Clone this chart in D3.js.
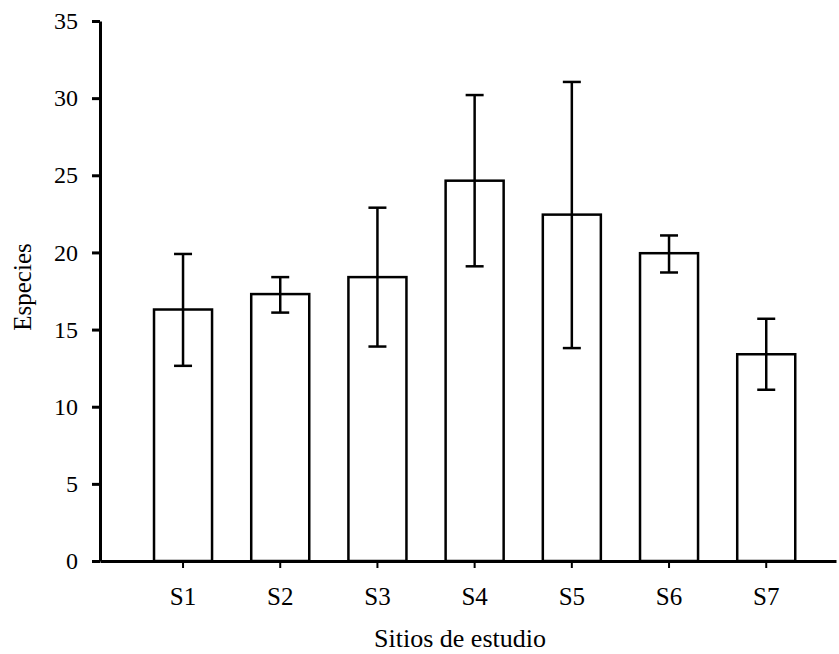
<!DOCTYPE html>
<html><head><meta charset="utf-8">
<script src="https://cdn.jsdelivr.net/npm/d3@7"></script>
<style>body{margin:0;background:#fff}svg{display:block}
svg text{font-family:"Liberation Serif","DejaVu Serif",serif;fill:#000}</style>
</head><body>
<svg id="c" width="839" height="654"></svg>
<script>
const categories = ["S1","S2","S3","S4","S5","S6","S7"];
const means = [16.3, 17.3, 18.4, 24.65, 22.45, 19.95, 13.4];
const upper = [19.9, 18.4, 22.9, 30.2, 31.05, 21.1, 15.7];
const lower = [12.65, 16.1, 13.9, 19.1, 13.8, 18.7, 11.1];
const yTicks = [0,5,10,15,20,25,30,35];

const svg = d3.select("#c");
const fs = 24;
const x = d3.scaleBand().domain(categories).range([100, 836])
  .paddingInner(0.403).paddingOuter(0.4875).align(0.57);
const y = d3.scaleLinear().domain([0, 35]).range([561, 21]);

const data = categories.map((c,i)=>({c, m:means[i], u:upper[i], l:lower[i]}));

// bars
svg.append("g").selectAll("rect").data(data).join("rect")
  .attr("x", d=>x(d.c)).attr("y", d=>y(d.m))
  .attr("width", x.bandwidth()).attr("height", d=>y(0)-y(d.m))
  .attr("fill","#fff").attr("stroke","#000").attr("stroke-width",2.5);

// error bars
const cap = 9;
const eb = svg.append("g").attr("stroke","#000").attr("stroke-width",2.5);
data.forEach(d=>{
  const cx = x(d.c)+x.bandwidth()/2;
  eb.append("line").attr("x1",cx).attr("x2",cx).attr("y1",y(d.u)).attr("y2",y(d.l));
  eb.append("line").attr("x1",cx-cap).attr("x2",cx+cap).attr("y1",y(d.u)).attr("y2",y(d.u));
  eb.append("line").attr("x1",cx-cap).attr("x2",cx+cap).attr("y1",y(d.l)).attr("y2",y(d.l));
});

// y axis
const ya = svg.append("g").attr("transform","translate(100,0)")
  .call(d3.axisLeft(y).tickValues(yTicks).tickSize(8).tickSizeOuter(0).tickPadding(14));
ya.attr("font-family",null);
ya.select(".domain").attr("stroke-width",3);
ya.selectAll(".tick line").attr("stroke-width",3);
ya.selectAll("text").style("font-size",fs+"px");

// x axis
const xa = svg.append("g").attr("transform","translate(0,561)")
  .call(d3.axisBottom(x).tickSize(7).tickSizeOuter(0).tickPadding(19));
xa.attr("font-family",null);
xa.select(".domain").attr("stroke-width",3);
xa.selectAll(".tick line").attr("stroke-width",2);
xa.selectAll("text").style("font-size",(fs+1)+"px");

// titles
svg.append("text").attr("x",460).attr("y",647).attr("text-anchor","middle")
  .style("font-size","26px").text("Sitios de estudio");
svg.append("text").attr("transform","translate(31,287) rotate(-90)").attr("text-anchor","middle")
  .style("font-size","25px").text("Especies");
</script>
</body></html>
